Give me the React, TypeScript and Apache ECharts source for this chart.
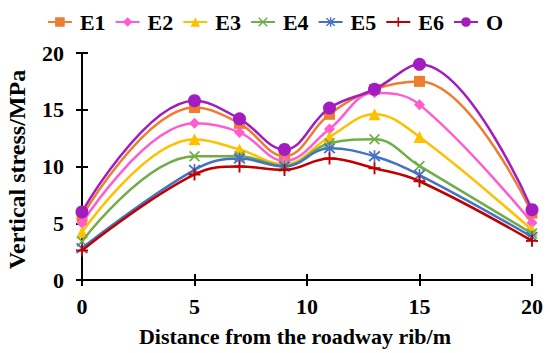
import React, { useEffect, useRef } from "react";
import * as echarts from "echarts";

const xValues = [0, 5, 7, 9, 11, 13, 15, 20];
const seriesNames = ["E1", "E2", "E3", "E4", "E5", "E6", "O"];
const E1 = [5.6, 15.2, 13.8, 10.9, 14.6, 16.8, 17.5, 5.9];
const E2 = [5.0, 13.8, 13.0, 10.5, 13.3, 16.5, 15.45, 5.05];
const E3 = [4.2, 12.4, 11.5, 10.2, 12.6, 14.6, 12.6, 4.4];
const E4 = [3.4, 10.9, 10.9, 10.05, 12.05, 12.4, 10.05, 4.1];
const E5 = [2.8, 9.7, 10.7, 10.0, 11.6, 10.9, 9.25, 3.8];
const E6 = [2.6, 9.3, 10.0, 9.7, 10.7, 9.85, 8.7, 3.45];
const O = [6.0, 15.8, 14.2, 11.5, 15.15, 16.8, 19.0, 6.2];
const yTicks = { min: 0, max: 20, interval: 5 };
const xTicks = { min: 0, max: 20, interval: 5 };
const xTitle = "Distance from the roadway rib/m";
const yTitle = "Vertical stress/MPa";

const colors = ["#ED7D31", "#FF5CD0", "#FFC000", "#70AD47", "#4472C4", "#C00000", "#A21CBF"];
const PLUS = "M4.2 0H5.8V4.2H10V5.8H5.8V10H4.2V5.8H0V4.2H4.2Z";
const CROSS = "M0 1.1L1.1 0L5 3.9L8.9 0L10 1.1L6.1 5L10 8.9L8.9 10L5 6.1L1.1 10L0 8.9L3.9 5Z";
const STAR = "M0 1.1L1.1 0L5 3.9L8.9 0L10 1.1L6.1 5L10 8.9L8.9 10L5 6.1L1.1 10L0 8.9L3.9 5Z M4.3 -0.5H5.7V10.5H4.3Z";
const symbols = ["rect", "diamond", "triangle", "path://" + CROSS, "path://" + STAR, "path://" + PLUS, "circle"];
const symbolSizes = [11, 11, 12, 11, 12, 12, 13];

const FONT = '"Liberation Serif", "Times New Roman", serif';

export default function App() {
  const ref = useRef<HTMLDivElement>(null);
  useEffect(() => {
    if (!ref.current) return;
    const chart = echarts.init(ref.current, null, { renderer: "svg" });
    const all = [E1, E2, E3, E4, E5, E6, O];
    const axisTextStyle = { fontFamily: FONT, fontWeight: "bold" as const, fontSize: 22, color: "#000" };
    chart.setOption({
      animation: false,
      backgroundColor: "#fff",
      legend: {
        top: 6,
        left: "center",
        itemGap: 9,
        itemWidth: 24,
        itemHeight: 12,
        textStyle: { fontFamily: FONT, fontWeight: "bold", fontSize: 22, color: "#000", padding: [0, 0, 0, 3] },
        data: seriesNames,
      },
      grid: { left: 82, right: 18, top: 53, bottom: 73, containLabel: false, outerBoundsMode: "none" },
      xAxis: [
        {
          type: "value",
          ...xTicks,
          position: "bottom",
          axisLine: { lineStyle: { color: "#000", width: 2 } },
          axisTick: { show: true, length: 6, lineStyle: { color: "#000", width: 2 } },
          axisLabel: { ...axisTextStyle, margin: 15 },
          splitLine: { show: false },
          name: xTitle,
          nameLocation: "middle",
          nameGap: 45,
          nameTextStyle: { fontFamily: FONT, fontWeight: "bold", fontSize: 22, color: "#000", padding: [0, 24, 0, 0] },
        },
        {
          type: "value",
          ...xTicks,
          position: "bottom",
          axisLine: { show: false },
          axisTick: { show: true, inside: true, length: 6, lineStyle: { color: "#000", width: 2 } },
          axisLabel: { show: false },
          splitLine: { show: false },
        },
      ],
      yAxis: [
        {
          type: "value",
          ...yTicks,
          position: "left",
          axisLine: { show: true, lineStyle: { color: "#000", width: 2 } },
          axisTick: { show: true, length: 6, lineStyle: { color: "#000", width: 2 } },
          axisLabel: { ...axisTextStyle, margin: 18 },
          splitLine: { show: false },
          name: yTitle,
          nameLocation: "middle",
          nameGap: 53,
          nameTextStyle: { fontFamily: FONT, fontWeight: "bold", fontSize: 24, color: "#000", padding: [0, 6, 0, 0] },
        },
        {
          type: "value",
          ...yTicks,
          position: "left",
          axisLine: { show: false },
          axisTick: { show: true, inside: true, length: 6, lineStyle: { color: "#000", width: 2 } },
          axisLabel: { show: false },
          splitLine: { show: false },
        },
      ],
      series: seriesNames.map((name, i) => ({
        name,
        type: "line",
        xAxisIndex: 0,
        yAxisIndex: 0,
        smooth: 0.4,
        symbol: symbols[i],
        symbolSize: symbolSizes[i],
        showAllSymbol: true,
        color: colors[i],
        lineStyle: { width: 2.5, color: colors[i] },
        itemStyle: { color: colors[i] },
        data: xValues.map((x, j) => [x, all[i][j]]),
        z: 2 + i,
      })),
    });
    return () => chart.dispose();
  }, []);
  return <div ref={ref} style={{ position: "fixed", left: 0, top: 0, width: 550, height: 353 }} />;
}
